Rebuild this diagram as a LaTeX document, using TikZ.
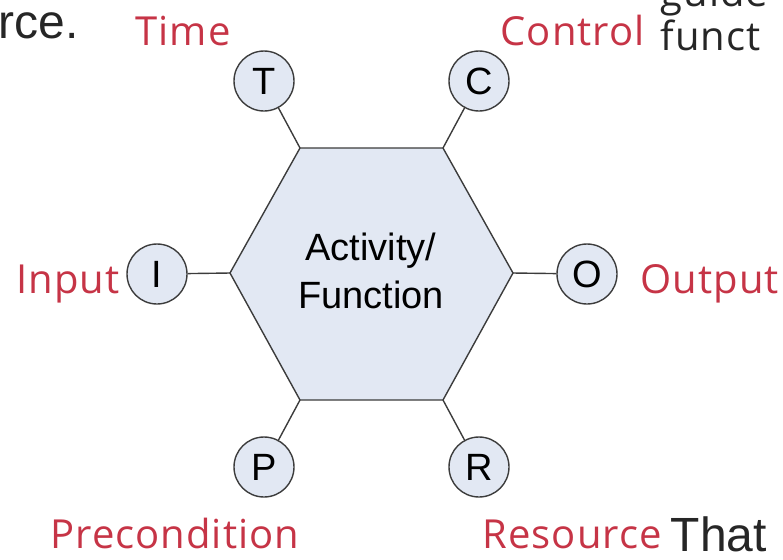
\documentclass[tikz,border=0pt]{standalone}
\usepackage{fontspec}
\setmainfont{Liberation Sans}
\newfontfamily\handfont[LetterSpace=2.5]{Open Sans}
\definecolor{labelRed}{RGB}{198,52,70}
\definecolor{hexBlue}{RGB}{226,232,243}
\definecolor{edgeGray}{RGB}{60,60,60}

\begin{document}
\begin{tikzpicture}[x=0.5pt, y=-0.5pt, line width=0.7pt,
    port/.style={circle, draw=edgeGray, fill=hexBlue, minimum size=30pt, inner sep=0pt, font=\fontsize{19}{19}\selectfont},
    lbl/.style={anchor=base west, inner sep=0pt, text=labelRed, font=\handfont\fontsize{20}{20}\selectfont},
    note/.style={anchor=base west, inner sep=0pt, text=black!85, font=\fontsize{24}{24}\selectfont},
    handnote/.style={note, font=\handfont\fontsize{20}{20}\selectfont}]
    \useasboundingbox (0,0) rectangle (783,559);
    \clip (0,0) rectangle (783,559);
    % hexagon corners
    \coordinate (tl) at (300,148);
    \coordinate (tr) at (443,148);
    \coordinate (rr) at (513,273);
    \coordinate (br) at (443,400);
    \coordinate (bl) at (300,400);
    \coordinate (ll) at (230,273);
    \filldraw[draw=edgeGray, fill=hexBlue] (tl) -- (tr) -- (rr) -- (br) -- (bl) -- (ll) -- cycle;
    \node[align=center, font=\fontsize{19}{24}\selectfont] (act) at (371,271) {Activity/\\Function};
    % ports
    \foreach \n/\x/\y/\c in {T/264/81/tl, C/479/81/tr, I/157/274/ll, O/587/274/rr, P/264/467/bl, R/479/467/br} {
        \node[port] (\n) at (\x,\y) {\n};
        \draw[edgeGray] (\n) -- (\c);
    }
    % labels
    \node[lbl] (time) at (135,45) {Time};
    \node[lbl] (control) at (500,45) {Control};
    \node[lbl] (input) at (16,293) {Input};
    \node[lbl] (output) at (640,293) {Output};
    \node[lbl] (precond) at (50,548) {Precondition};
    \node[lbl] (resource) at (482,548) {Resource};
    % surrounding text
    \node[note] (rce) at (-2,38) {rce.};
    \node[handnote] (guide) at (660,6) {guide};
    \node[handnote] (funct) at (660,50) {funct};
    \node[note] (that) at (670,551) {That};
\end{tikzpicture}
\end{document}
